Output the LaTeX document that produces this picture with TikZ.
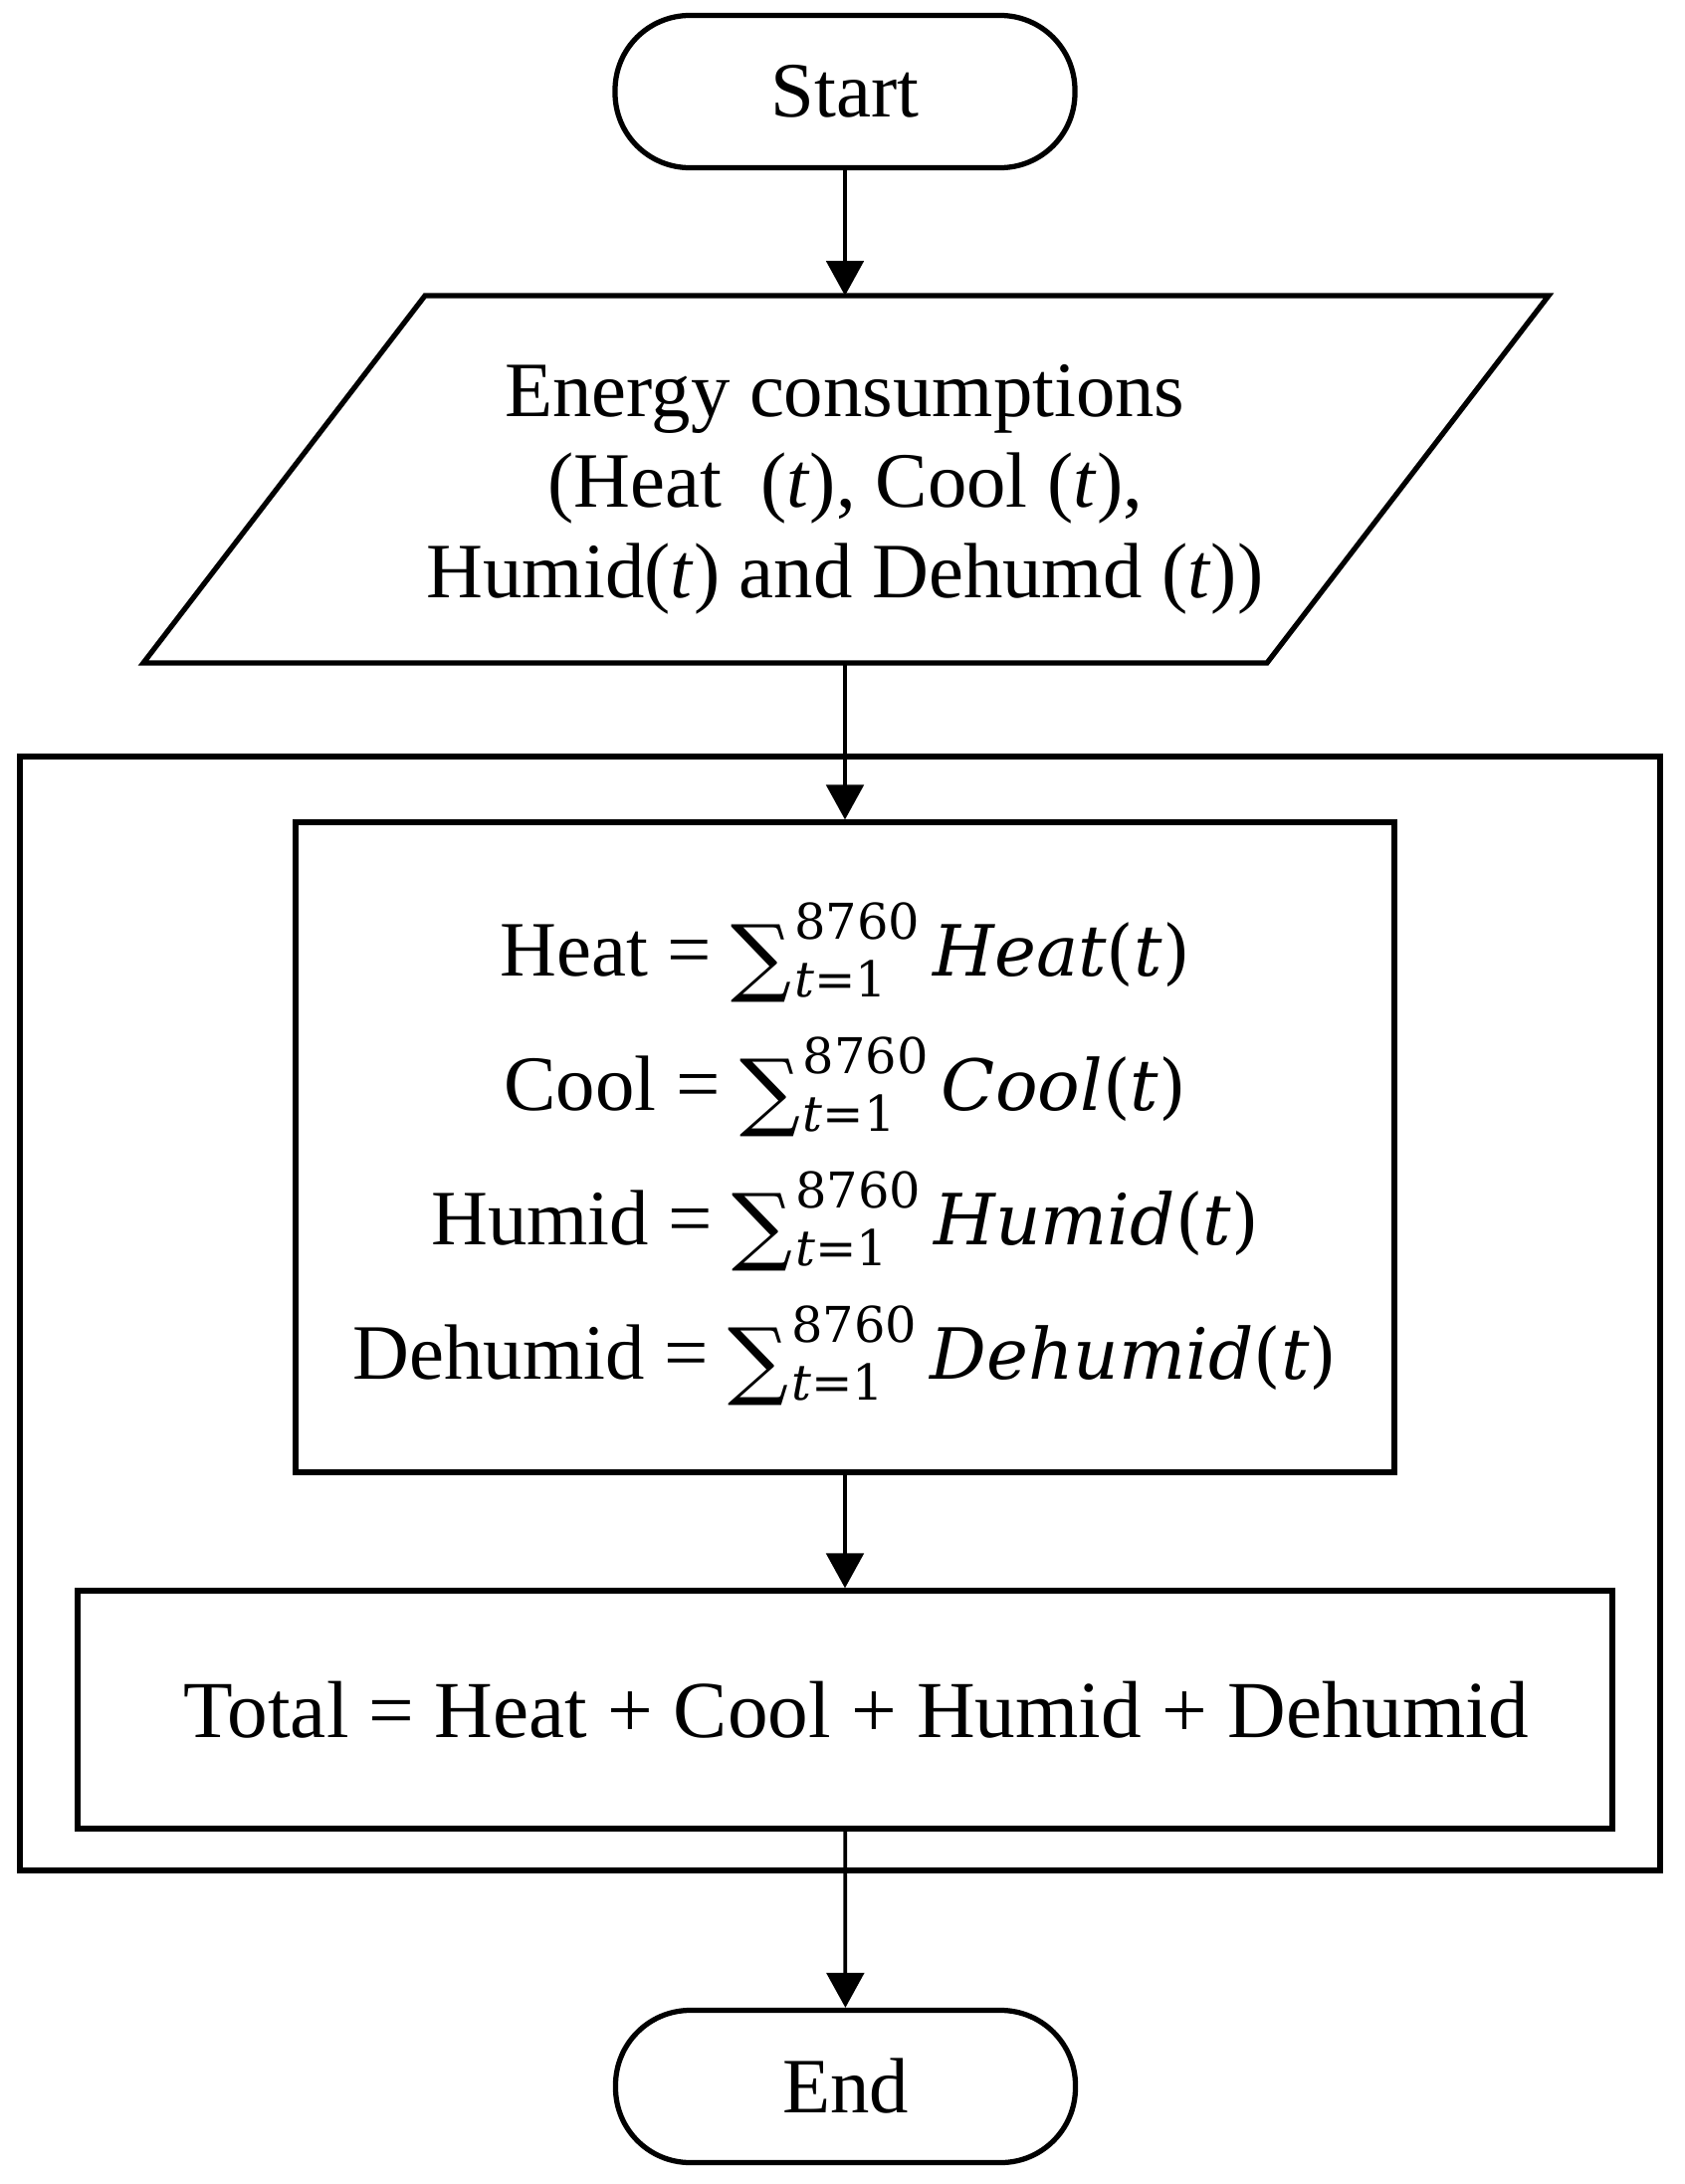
\documentclass[tikz,border=0pt]{standalone}
\usepackage{fontspec}
\setmainfont{Liberation Serif}
\newfontfamily\mfont{DejaVu Serif}[Scale=0.9]
\usetikzlibrary{arrows.meta}
\newcommand{\scrf}{\mfont\fontsize{22}{24}\selectfont}
\newlength\supw
\newcommand{\sumsym}{\settowidth{\supw}{\scrf 8760}%
  \raisebox{-0.13em}{\mfont\fontsize{38}{38}\selectfont ∑}\kern1pt%
  \raisebox{0.47em}{\makebox[0pt][l]{\scrf 8760}}%
  \raisebox{-0.27em}{\makebox[\supw][l]{\scrf\itshape t\upshape =1}}}
\newcommand{\eqline}[2]{#1 = \sumsym\,{\mfont\itshape #2}{\mfont(\itshape t\upshape)}}
\begin{document}
\begin{tikzpicture}[x=0.4pt,y=-0.4pt, font=\fontsize{31.5}{36.4}\selectfont,
  box/.style={draw, line width=2.1pt},
  term/.style={box, rounded corners=30pt, minimum width=184.8pt, minimum height=61.2pt, inner sep=0pt},
  arr/.style={line width=1.5pt, -{Triangle[length=14pt,width=15pt]}}]
\useasboundingbox (0,0) rectangle (1693,2194);
\node[term] (start) at (849,92) {Start};
\coordinate (ioT) at (849,297);
\coordinate (ioB) at (849,666);
\draw[box, line join=miter] (427,297) -- (1556,297) -- (1273,666) -- (144,666) -- cycle;
\node[align=center] (io) at (849,492) {Energy consumptions\\(Heat\ \ (\textit{t}), Cool (\textit{t}),\\Humid(\textit{t}) and Dehumd (\textit{t}))};
\node[box, minimum width=659.2pt, minimum height=447.6pt] (outer) at (844,1319.5) {};
\node[box, minimum width=441.6pt, minimum height=261.2pt, align=center, font=\fontsize{31.5}{54}\selectfont] (sum) at (849,1152.5)
  {\rule{0pt}{35pt}\eqline{Heat}{Heat}\\\eqline{Cool}{Cool}\\\eqline{Humid}{Humid}\\\eqline{Dehumid}{Dehumid}};
\node[box, minimum width=616.8pt, minimum height=95.6pt, font=\fontsize{32.5}{36}\selectfont] (total) at (849,1717.5) {\hspace*{9pt}Total = Heat + Cool + Humid + Dehumid};
\node[term] (end) at (849.5,2096) {End};
\draw[arr] (start) -- (ioT);
\draw[arr] (ioB) -- (sum);
\draw[arr] (sum) -- (total);
\draw[arr] (total) -- (end);
\end{tikzpicture}
\end{document}
